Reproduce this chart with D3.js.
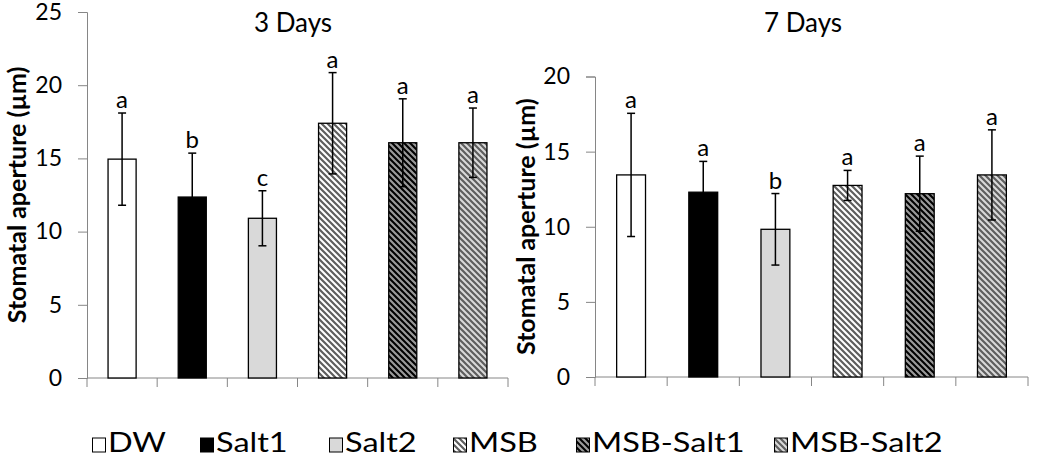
<!DOCTYPE html>
<html>
<head>
<meta charset="utf-8">
<script src="https://cdn.jsdelivr.net/npm/d3@7"></script>
<style>
  html, body { margin: 0; padding: 0; background: #fff; }
  svg { display: block; font-family: Lato, "Open Sans", sans-serif; }
</style>
</head>
<body>
<svg id="chart" width="1046" height="466"></svg>
<script>
// treatments, shared by both panels
const categories = ['DW', 'Salt1', 'Salt2', 'MSB', 'MSB-Salt1', 'MSB-Salt2'];

// 3 days after treatment
const day3Means = [14.95, 12.36, 10.91, 17.40, 16.07, 16.07];
const day3Errors = [3.15, 3.0, 1.88, 3.46, 3.0, 2.37];
const day3Letters = ['a', 'b', 'c', 'a', 'a', 'a'];
const day3Ticks = [0, 5, 10, 15, 20, 25];

// 7 days after treatment
const day7Means = [13.45, 12.30, 9.83, 12.75, 12.20, 13.45];
const day7Errors = [4.1, 2.05, 2.38, 1.0, 2.5, 3.0];
const day7Letters = ['a', 'a', 'b', 'a', 'a', 'a'];
const day7Ticks = [0, 5, 10, 15, 20];

const svg = d3.select('#chart');
const axisGrey = '#868686';

// Excel-like "wide downward diagonal" fills
const defs = svg.append('defs');
const hatch = (id, bg, fg) => {
    const p = defs.append('pattern')
    .attr('id', id)
    .attr('patternUnits', 'userSpaceOnUse')
    .attr('width', 6)
    .attr('height', 6);
    p.append('rect').attr('width', 6).attr('height', 6).attr('fill', bg);
    p.append('path')
    .attr('d', 'M-1,-1L7,7M5,-1L7,1M-1,5L1,7')
    .attr('stroke', fg)
    .attr('stroke-width', 2.2);
};
hatch('h-msb', '#ffffff', '#5e5e5e');
hatch('h-msb1', '#000000', '#9a9a9a');
hatch('h-msb2', '#d9d9d9', '#5e5e5e');

const fills = ['#ffffff', '#000000', '#d9d9d9', 'url(#h-msb)', 'url(#h-msb1)', 'url(#h-msb2)'];

const drawPanel = (opt) => {
    const g = svg.append('g');
    const x = d3.scaleBand()
    .domain(categories)
    .range([opt.left, opt.right])
    .paddingInner(0.6)
    .paddingOuter(0.3);
    const y = d3.scaleLinear()
    .domain([0, opt.yMax])
    .range([opt.bottom, opt.top]);

    // y axis
    const ya = g.append('g')
    .attr('transform', `translate(${opt.left},0)`)
    .call(d3.axisLeft(y).tickValues(opt.ticks).tickSize(9).tickPadding(16));
    ya.select('.domain').attr('stroke', axisGrey);
    ya.selectAll('.tick line').attr('stroke', axisGrey);
    ya.selectAll('.tick text')
    .attr('fill', '#000')
    .style('font-size', '23px')
    .style('font-family', 'Lato, sans-serif');

    // x axis: ticks sit on band boundaries, no labels
    const step = x.step();
    const bounds = d3.range(categories.length + 1).map((i) => opt.left + i * step);
    g.append('line')
    .attr('x1', opt.left).attr('x2', opt.right)
    .attr('y1', opt.bottom).attr('y2', opt.bottom)
    .attr('stroke', axisGrey);
    g.selectAll('.xtick')
    .data(bounds)
    .enter()
    .append('line')
    .attr('x1', (d) => d).attr('x2', (d) => d)
    .attr('y1', opt.bottom).attr('y2', opt.bottom + 9)
    .attr('stroke', axisGrey);

    // bars
    g.selectAll('.bar')
    .data(opt.means)
    .enter()
    .append('rect')
    .attr('x', (d, i) => x(categories[i]))
    .attr('y', (d) => y(d))
    .attr('width', x.bandwidth())
    .attr('height', (d) => y(0) - y(d))
    .attr('fill', (d, i) => fills[i])
    .attr('stroke', '#000')
    .attr('stroke-width', 1.3);

    // error bars
    const cx = (i) => x(categories[i]) + x.bandwidth() / 2;
    const eb = g.selectAll('.err')
    .data(opt.means)
    .enter()
    .append('g');
    eb.append('line')
    .attr('x1', (d, i) => cx(i)).attr('x2', (d, i) => cx(i))
    .attr('y1', (d, i) => y(d - opt.errors[i]))
    .attr('y2', (d, i) => y(d + opt.errors[i]))
    .attr('stroke', '#000').attr('stroke-width', 1.5);
    [-1, 1].forEach((s) => {
        eb.append('line')
        .attr('x1', (d, i) => cx(i) - 4).attr('x2', (d, i) => cx(i) + 4)
        .attr('y1', (d, i) => y(d + s * opt.errors[i]))
        .attr('y2', (d, i) => y(d + s * opt.errors[i]))
        .attr('stroke', '#000').attr('stroke-width', 1.5);
    });

    // significance letters
    g.selectAll('.letter')
    .data(opt.letters)
    .enter()
    .append('text')
    .attr('x', (d, i) => cx(i))
    .attr('y', (d, i) => y(opt.means[i] + opt.errors[i]) - 5)
    .attr('text-anchor', 'middle')
    .style('font-size', '24px')
    .text((d) => d);

    // title
    g.append('text')
    .attr('x', opt.titleX)
    .attr('y', 32)
    .attr('text-anchor', 'middle')
    .style('font-size', '26px')
    .text(opt.title);

    // y label
    g.append('text')
    .attr('transform', `translate(${opt.labelX},${(opt.top + opt.bottom) / 2}) rotate(-90)`)
    .attr('text-anchor', 'middle')
    .attr('dominant-baseline', 'central')
    .style('font-size', '25px')
    .style('font-weight', 'bold')
    .text('Stomatal aperture (µm)');
};

drawPanel({
    left: 87, right: 508, top: 12, bottom: 378, yMax: 25,
    ticks: day3Ticks, means: day3Means, errors: day3Errors, letters: day3Letters,
    title: '3 Days', titleX: 293, labelX: 16
});

drawPanel({
    left: 595, right: 1028, top: 76.5, bottom: 377, yMax: 20,
    ticks: day7Ticks, means: day7Means, errors: day7Errors, letters: day7Letters,
    title: '7 Days', titleX: 803, labelX: 525
});

// legend (the source's legend font runs wide, hence the x-stretch)
const legendX = [92, 200, 329, 453, 576, 774];
const legend = svg.append('g');
const item = legend.selectAll('.item')
.data(categories)
.enter()
.append('g')
.attr('transform', (d, i) => `translate(${legendX[i]},0)`);
item.append('rect')
.attr('x', 0.5).attr('y', 438)
.attr('width', 13).attr('height', 14)
.attr('fill', (d, i) => fills[i])
.attr('stroke', '#000')
.attr('stroke-width', 1);
item.append('text')
.attr('transform', 'translate(16,452) scale(1.25,1)')
.style('font-size', '26px')
.text((d) => d);
</script>
</body>
</html>
